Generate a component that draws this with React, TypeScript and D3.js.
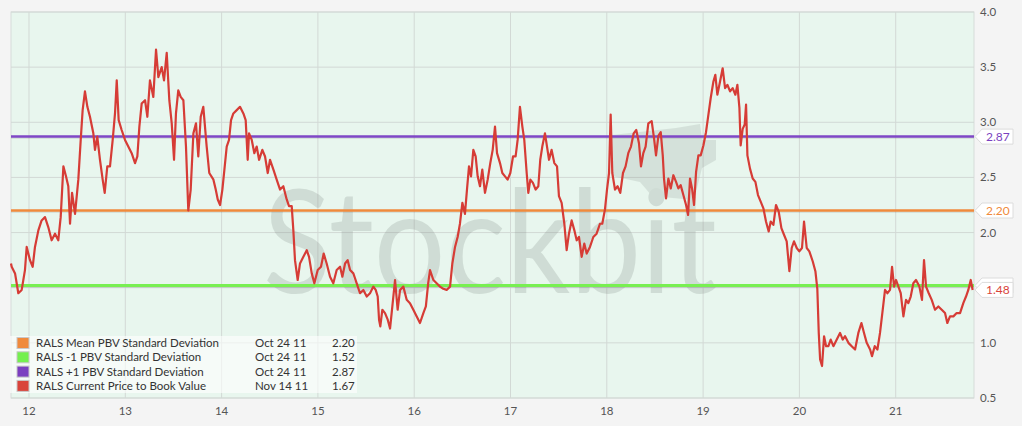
import * as d3 from 'd3';
import { useEffect, useRef } from 'react';

type Pt = [number, number];

// [year (20xx, fractional), price to book value]
const pbv2011to2014: Pt[] = [
    [11.813, 1.72], [11.820, 1.69], [11.855, 1.63], [11.889, 1.45], [11.924, 1.48], [11.958, 1.66], [11.976, 1.87],
    [12.010, 1.75], [12.038, 1.69], [12.062, 1.87], [12.097, 2.02], [12.131, 2.11], [12.166, 2.14], [12.200, 2.05],
    [12.235, 1.93], [12.270, 1.99], [12.304, 1.93], [12.329, 2.14], [12.357, 2.60], [12.384, 2.51], [12.408, 2.42],
    [12.426, 2.08], [12.447, 2.36], [12.478, 2.17], [12.512, 2.48], [12.537, 2.84], [12.557, 3.11], [12.581, 3.28],
    [12.606, 3.14], [12.633, 3.05], [12.668, 2.90], [12.685, 2.75], [12.709, 2.87], [12.737, 2.66], [12.765, 2.48],
    [12.786, 2.36], [12.813, 2.60], [12.841, 2.60], [12.869, 2.84], [12.893, 3.08], [12.911, 3.38], [12.931, 3.02],
    [12.962, 2.93], [12.997, 2.84], [13.031, 2.78], [13.066, 2.72], [13.101, 2.63], [13.125, 2.69], [13.146, 2.96],
    [13.170, 3.17], [13.205, 3.20], [13.229, 3.05], [13.256, 3.38], [13.291, 3.23], [13.319, 3.66], [13.343, 3.41],
    [13.378, 3.50], [13.402, 3.38], [13.430, 3.63], [13.457, 3.20], [13.482, 2.99], [13.506, 2.66], [13.526, 3.08],
    [13.550, 3.29], [13.575, 3.23], [13.603, 3.20], [13.630, 2.78], [13.654, 2.20], [13.679, 2.39], [13.707, 2.90],
    [13.734, 2.99], [13.758, 2.69], [13.783, 3.05], [13.810, 3.14], [13.845, 2.78], [13.872, 2.54], [13.915, 2.48],
    [13.939, 2.39], [13.960, 2.30], [13.984, 2.25], [14.008, 2.39], [14.029, 2.57], [14.053, 2.78], [14.077, 2.84],
    [14.098, 3.02], [14.122, 3.08], [14.157, 3.11], [14.191, 3.14], [14.226, 3.08], [14.250, 3.02], [14.271, 2.66],
    [14.285, 2.90], [14.313, 2.84], [14.340, 2.72], [14.364, 2.78], [14.389, 2.66], [14.423, 2.75], [14.451, 2.69],
    [14.479, 2.54], [14.503, 2.66], [14.538, 2.57], [14.572, 2.48], [14.607, 2.39], [14.641, 2.42], [14.676, 2.30],
    [14.700, 2.24], [14.728, 2.24], [14.745, 2.02], [14.762, 1.75], [14.790, 1.57], [14.814, 1.72], [14.849, 1.78],
    [14.884, 1.84], [14.908, 1.78], [14.936, 1.63], [14.963, 1.54], [14.998, 1.66],
];

const pbv2015to2018: Pt[] = [
    [15.032, 1.69], [15.060, 1.81], [15.091, 1.72], [15.126, 1.60], [15.160, 1.54], [15.195, 1.66], [15.230, 1.69],
    [15.254, 1.60], [15.282, 1.72], [15.309, 1.75], [15.334, 1.66], [15.368, 1.63], [15.403, 1.54], [15.437, 1.45],
    [15.472, 1.48], [15.507, 1.42], [15.541, 1.45], [15.576, 1.51], [15.600, 1.48], [15.621, 1.42], [15.635, 1.21],
    [15.648, 1.15], [15.669, 1.30], [15.697, 1.27], [15.725, 1.21], [15.749, 1.13], [15.773, 1.33], [15.801, 1.57],
    [15.828, 1.30], [15.853, 1.48], [15.887, 1.51], [15.922, 1.39], [15.956, 1.36], [15.991, 1.30], [16.026, 1.24],
    [16.060, 1.18], [16.095, 1.27], [16.121, 1.33], [16.145, 1.54], [16.164, 1.66], [16.199, 1.57], [16.233, 1.54],
    [16.268, 1.51], [16.302, 1.49], [16.337, 1.48], [16.372, 1.51], [16.396, 1.72], [16.424, 1.87], [16.451, 1.96],
    [16.475, 2.08], [16.500, 2.27], [16.527, 2.17], [16.548, 2.39], [16.569, 2.60], [16.590, 2.51], [16.614, 2.75],
    [16.638, 2.69], [16.659, 2.51], [16.683, 2.42], [16.707, 2.57], [16.735, 2.36], [16.763, 2.48], [16.790, 2.63],
    [16.815, 2.75], [16.839, 2.96], [16.860, 2.72], [16.891, 2.63], [16.915, 2.54], [16.943, 2.51], [16.970, 2.48],
    [16.998, 2.54], [17.026, 2.69], [17.053, 2.69], [17.074, 2.84], [17.098, 3.14], [17.123, 2.96], [17.143, 2.84],
    [17.168, 2.54], [17.185, 2.36], [17.206, 2.48], [17.233, 2.45], [17.261, 2.39], [17.289, 2.42], [17.309, 2.66],
    [17.330, 2.78], [17.358, 2.90], [17.379, 2.78], [17.400, 2.66], [17.427, 2.75], [17.455, 2.63], [17.483, 2.60],
    [17.503, 2.33], [17.531, 2.27], [17.559, 2.08], [17.583, 1.84], [17.607, 1.99], [17.635, 2.11], [17.663, 2.02],
    [17.687, 1.93], [17.711, 1.96], [17.739, 1.78], [17.766, 1.90], [17.791, 1.81], [17.825, 1.87], [17.860, 1.96],
    [17.894, 1.99], [17.929, 2.08], [17.953, 2.08], [17.981, 2.21], [18.002, 2.39], [18.023, 2.54], [18.040, 3.07],
    [18.057, 2.54], [18.085, 2.39], [18.112, 2.42], [18.140, 2.36], [18.168, 2.54], [18.195, 2.60], [18.223, 2.72],
    [18.251, 2.78], [18.279, 2.90], [18.306, 2.93], [18.334, 2.81], [18.355, 2.60], [18.379, 2.72], [18.403, 2.78],
    [18.431, 2.99],
];

const pbv2018to2021: Pt[] = [
    [18.466, 3.01], [18.491, 2.85], [18.511, 2.70], [18.536, 2.88], [18.560, 2.91], [18.581, 2.70], [18.594, 2.49],
    [18.615, 2.31], [18.639, 2.49], [18.664, 2.40], [18.691, 2.52], [18.719, 2.46], [18.743, 2.40], [18.767, 2.43],
    [18.795, 2.34], [18.823, 2.25], [18.844, 2.16], [18.864, 2.49], [18.885, 2.40], [18.906, 2.25], [18.927, 2.55],
    [18.951, 2.70], [18.975, 2.70], [19.003, 2.79], [19.030, 2.91], [19.055, 3.07], [19.079, 3.22], [19.107, 3.37],
    [19.127, 3.43], [19.148, 3.25], [19.176, 3.37], [19.203, 3.49], [19.228, 3.31], [19.252, 3.34], [19.280, 3.28],
    [19.307, 3.31], [19.335, 3.25], [19.356, 3.34], [19.377, 3.13], [19.390, 2.79], [19.411, 2.94], [19.432, 2.98],
    [19.446, 3.16], [19.460, 2.70], [19.487, 2.58], [19.515, 2.49], [19.543, 2.46], [19.570, 2.34], [19.598, 2.28],
    [19.626, 2.22], [19.653, 2.10], [19.681, 2.01], [19.702, 2.10], [19.730, 2.07], [19.757, 2.25], [19.785, 2.19],
    [19.813, 2.04], [19.840, 1.98], [19.868, 1.92], [19.896, 1.65], [19.920, 1.86], [19.944, 1.92], [19.972, 1.86],
    [19.999, 1.83], [20.027, 1.86], [20.048, 2.10], [20.076, 1.86], [20.103, 1.83], [20.138, 1.74], [20.166, 1.65],
    [20.186, 1.49], [20.201, 1.09], [20.215, 0.85], [20.235, 0.79], [20.256, 1.06], [20.277, 0.97], [20.301, 0.97],
    [20.325, 1.03], [20.353, 0.97], [20.388, 1.03], [20.422, 1.09], [20.450, 1.03], [20.474, 1.06], [20.509, 1.00],
    [20.543, 0.97], [20.578, 0.94], [20.612, 1.09], [20.644, 1.18], [20.671, 1.09], [20.699, 1.00], [20.734, 0.94],
    [20.754, 0.88], [20.782, 0.97], [20.810, 0.94], [20.837, 1.09], [20.865, 1.30], [20.889, 1.48], [20.913, 1.45],
    [20.941, 1.48], [20.962, 1.69], [20.983, 1.51], [21.003, 1.57], [21.028, 1.51], [21.052, 1.45], [21.080, 1.24],
    [21.107, 1.39], [21.131, 1.36], [21.156, 1.42], [21.183, 1.54], [21.211, 1.57], [21.246, 1.51], [21.273, 1.39],
    [21.294, 1.75], [21.315, 1.51], [21.343, 1.45], [21.374, 1.39], [21.408, 1.30], [21.443, 1.33], [21.478, 1.30],
    [21.512, 1.27], [21.536, 1.18], [21.564, 1.24], [21.599, 1.24], [21.633, 1.27], [21.668, 1.27], [21.702, 1.36],
    [21.730, 1.42], [21.754, 1.48], [21.779, 1.57], [21.799, 1.48],
];

const yearTicks = [12, 13, 14, 15, 16, 17, 18, 19, 20, 21];
const valueTicks = [0.5, 1.0, 1.5, 2.0, 2.5, 3.0, 3.5, 4.0];

const bandValues = [2.20, 1.52, 2.87];
const bandColors = ['#f08a3c', '#78ef52', '#7f47c6'];
const bandWidths = [2.5, 3, 2.5];

const lineColor = '#d63c36';
const lastValue = 1.48;

const legendNames = [
    'RALS Mean PBV Standard Deviation',
    'RALS -1 PBV Standard Deviation',
    'RALS +1 PBV Standard Deviation',
    'RALS Current Price to Book Value',
];
const legendDates = ['Oct 24 11', 'Oct 24 11', 'Oct 24 11', 'Nov 14 11'];
const legendValues = ['2.20', '1.52', '2.87', '1.67'];
const legendColors = ['#f08a3c', '#74f04f', '#7b3fc0', '#d9443b'];

const FONT = 'Lato, "Open Sans", sans-serif';

export default function App() {
    const ref = useRef<SVGSVGElement | null>(null);

    useEffect(() => {
        document.body.style.margin = '0';
        const svg = d3.select(ref.current);
        svg.selectAll('*').remove();

        const width = 1022;
        const height = 426;
        const margin = { top: 12, right: 48, bottom: 28, left: 11 };
        const series = [...pbv2011to2014, ...pbv2015to2018, ...pbv2018to2021];

        const x = d3.scaleLinear()
            .domain([11.813, 21.813])
            .range([margin.left, width - margin.right]);

        const y = d3.scaleLinear()
            .domain([0.5, 4])
            .range([height - margin.bottom, margin.top]);

        svg.attr('width', width).attr('height', height)
            .style('display', 'block')
            .style('background', '#f4f4f4')
            .style('font-family', FONT);

        // plot background
        svg.append('rect')
            .attr('x', margin.left).attr('y', margin.top)
            .attr('width', width - margin.left - margin.right)
            .attr('height', height - margin.top - margin.bottom)
            .attr('fill', '#e8f6ee')
            .attr('stroke', '#d6dcd9');

        // grid
        svg.append('g')
            .selectAll('line')
            .data(valueTicks)
            .join('line')
            .attr('x1', margin.left).attr('x2', width - margin.right)
            .attr('y1', d => y(d)).attr('y2', d => y(d))
            .attr('stroke', '#d2d9d5');

        svg.append('g')
            .selectAll('line')
            .data(yearTicks)
            .join('line')
            .attr('x1', d => x(d)).attr('x2', d => x(d))
            .attr('y1', margin.top).attr('y2', height - margin.bottom)
            .attr('stroke', '#d2d9d5');

        // watermark
        const wm = svg.append('g').attr('opacity', 0.2);
        wm.append('text')
            .attr('x', 263).attr('y', 293)
            .attr('font-size', 143)
            .attr('textLength', 454)
            .attr('lengthAdjust', 'spacingAndGlyphs')
            .attr('fill', '#6f7a74')
            .text('Stockbit');
        wm.append('path')
            .attr('d', 'M612,135 L676,128 L700,124 L702,140 L716,140 L716,160 L702,168 L694,200 L652,196 L640,182 L612,176 Z')
            .attr('fill', '#6f7a74')
            .attr('opacity', 0.8);

        // axes labels
        svg.append('g')
            .selectAll('text')
            .data(valueTicks)
            .join('text')
            .attr('x', 980)
            .attr('y', d => y(d))
            .attr('dy', '0.35em')
            .attr('font-size', 11.5)
            .attr('fill', '#555')
            .text(d => d.toFixed(1));

        svg.append('g')
            .selectAll('text')
            .data(yearTicks)
            .join('text')
            .attr('x', d => x(d))
            .attr('y', 411)
            .attr('dy', '0.35em')
            .attr('text-anchor', 'middle')
            .attr('font-size', 11.5)
            .attr('fill', '#555')
            .text(d => String(d));

        // standard deviation bands
        bandValues.forEach((v, i) => {
            svg.append('line')
                .attr('x1', margin.left).attr('x2', width - margin.right)
                .attr('y1', y(v) + 1.5).attr('y2', y(v) + 1.5)
                .attr('stroke', '#000').attr('stroke-opacity', 0.08)
                .attr('stroke-width', 2);
            svg.append('line')
                .attr('x1', margin.left).attr('x2', width - margin.right)
                .attr('y1', y(v)).attr('y2', y(v))
                .attr('stroke', bandColors[i])
                .attr('stroke-width', bandWidths[i]);
        });

        // price to book value line
        const line = d3.line<Pt>()
            .x(d => x(d[0]))
            .y(d => y(d[1]));

        svg.append('path')
            .datum(series)
            .attr('fill', 'none')
            .attr('stroke', lineColor)
            .attr('stroke-width', 2.2)
            .attr('stroke-linejoin', 'round')
            .attr('d', line);

        // right-hand value tags (the -1 SD tag sits mostly under the current value tag)
        const tags = [
            { v: bandValues[2], c: '#7b3fc0' },
            { v: bandValues[0], c: '#f08a3c' },
            { v: bandValues[1], c: '#6ee04a' },
            { v: lastValue, c: '#d9443b' },
        ];
        const tg = svg.append('g');
        tags.forEach(t => {
            const cy = y(t.v);
            const x0 = width - margin.right + 1;
            tg.append('path')
                .attr('d', `M${x0},${cy} L${x0 + 7},${cy - 7.5} L${x0 + 38},${cy - 7.5} L${x0 + 38},${cy + 7.5} L${x0 + 7},${cy + 7.5} Z`)
                .attr('fill', '#fff')
                .attr('stroke', '#dcdcdc');
            tg.append('text')
                .attr('x', x0 + 11)
                .attr('y', cy)
                .attr('dy', '0.36em')
                .attr('font-size', 12)
                .attr('fill', t.c)
                .text(t.v.toFixed(2));
        });

        // legend
        const lg = svg.append('g');
        lg.append('rect')
            .attr('x', 10).attr('y', 336)
            .attr('width', 347).attr('height', 57)
            .attr('fill', '#fff').attr('fill-opacity', 0.6);

        legendNames.forEach((name, i) => {
            const cy = 343 + i * 14.3;
            lg.append('rect')
                .attr('x', 17).attr('y', cy - 5.5)
                .attr('width', 12).attr('height', 11)
                .attr('fill', legendColors[i])
                .attr('stroke', '#c8c8c8');
            lg.append('text')
                .attr('x', 36).attr('y', cy).attr('dy', '0.35em')
                .attr('font-size', 11.5).attr('fill', '#333')
                .text(name);
            lg.append('text')
                .attr('x', 255).attr('y', cy).attr('dy', '0.35em')
                .attr('font-size', 11.5).attr('fill', '#333')
                .text(legendDates[i]);
            lg.append('text')
                .attr('x', 332).attr('y', cy).attr('dy', '0.35em')
                .attr('font-size', 11.5).attr('fill', '#333')
                .text(legendValues[i]);
        });
    }, []);

    return <svg id="pbv-chart" ref={ref}></svg>;
}
